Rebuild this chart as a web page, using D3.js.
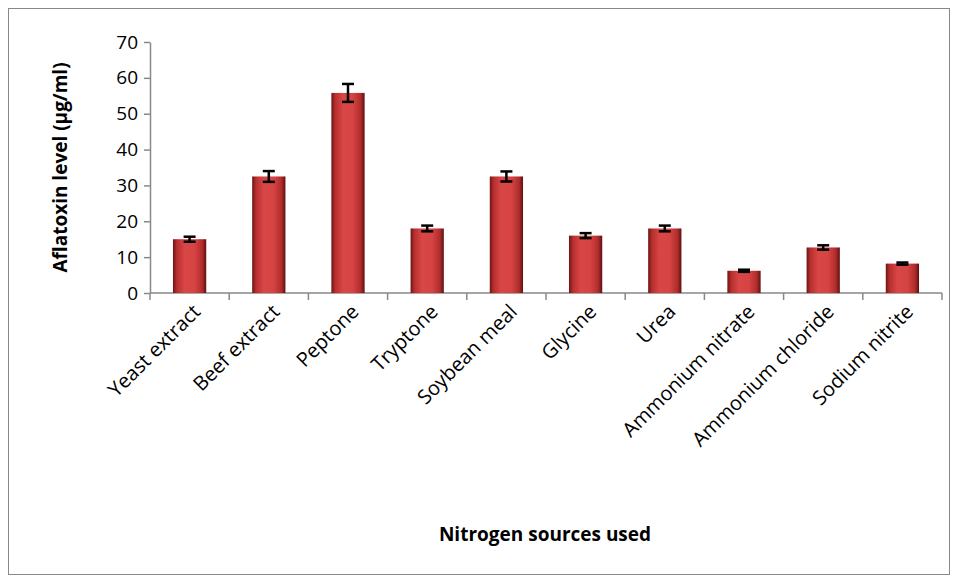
<!DOCTYPE html><html><head><meta charset="utf-8"><script src="https://d3js.org/d3.v7.min.js"></script>
<style>body{margin:0;background:#fff}svg{display:block}text{font-family:"Open Sans",sans-serif}</style></head><body><svg id="c" width="957" height="581"></svg>
<script>
const categories=["Yeast extract","Beef extract","Peptone","Tryptone","Soybean meal","Glycine","Urea","Ammonium nitrate","Ammonium chloride","Sodium nitrite"];
const values=[15,32.5,55.8,18,32.5,16,18,6.2,12.7,8.2];
const errors=[0.7,1.5,2.5,0.8,1.4,0.7,0.8,0.3,0.6,0.3];
const yTicks=[0,10,20,30,40,50,60,70];
const svg=d3.select("#c");
svg.append("rect").attr("x",8.5).attr("y",8.5).attr("width",941).attr("height",566).attr("fill","#fff").attr("stroke","#888");
const L=150,R=942,T=42,B=293;
const x=d3.scaleBand().domain(categories).range([L,R]).paddingInner(0.58).paddingOuter(0.29);
const y=d3.scaleLinear().domain([0,70]).range([B,T]);
const defs=svg.append("defs");
const g=defs.append("linearGradient").attr("id","bg");
[[0,"#6e1515"],[0.12,"#b82f2f"],[0.35,"#d94646"],[0.65,"#d64343"],[0.88,"#b02c2c"],[1,"#5e1010"]].forEach(s=>g.append("stop").attr("offset",s[0]).attr("stop-color",s[1]));
const ya=svg.append("g").attr("transform",`translate(${L},0)`).call(d3.axisLeft(y).tickValues(yTicks).tickSize(6).tickSizeOuter(0));
ya.select(".domain").attr("stroke","#888").attr("stroke-width",1.5);
ya.selectAll("line").attr("stroke","#888").attr("stroke-width",1.5);
ya.selectAll("text").attr("font-size",19).attr("fill","#000").attr("dx",-3);
const xs=d3.scalePoint().domain(d3.range(11)).range([L,R]);
svg.append("line").attr("x1",L).attr("x2",R).attr("y1",B).attr("y2",B).attr("stroke","#888").attr("stroke-width",1.5);
svg.selectAll(".xt").data(d3.range(11)).enter().append("line").attr("x1",d=>xs(d)).attr("x2",d=>xs(d)).attr("y1",B).attr("y2",B+7).attr("stroke","#888").attr("stroke-width",1.5);
svg.selectAll(".bar").data(values).enter().append("rect").attr("x",(d,i)=>x(categories[i])).attr("y",d=>y(d)).attr("width",x.bandwidth()).attr("height",d=>B-y(d)).attr("fill","url(#bg)");
const eb=svg.selectAll(".eb").data(values).enter().append("g").attr("stroke","#000").attr("stroke-width",2.5);
eb.append("line").attr("x1",(d,i)=>x(categories[i])+x.bandwidth()/2).attr("x2",(d,i)=>x(categories[i])+x.bandwidth()/2).attr("y1",(d,i)=>y(d+errors[i])).attr("y2",(d,i)=>y(d-errors[i]));
[1,-1].forEach(s=>eb.append("line").attr("x1",(d,i)=>x(categories[i])+x.bandwidth()/2-6).attr("x2",(d,i)=>x(categories[i])+x.bandwidth()/2+6).attr("y1",(d,i)=>y(d+s*errors[i])).attr("y2",(d,i)=>y(d+s*errors[i])));
svg.selectAll(".xl").data(categories).enter().append("text").attr("transform",d=>`translate(${x(d)+x.bandwidth()/2+12},${B+20}) rotate(-45)`).attr("text-anchor","end").attr("font-size",20).text(d=>d);
svg.append("text").attr("x",545).attr("y",541).attr("text-anchor","middle").attr("font-size",19).attr("font-weight","bold").text("Nitrogen sources used");
svg.append("text").attr("transform",`translate(67,${(T+B)/2}) rotate(-90)`).attr("text-anchor","middle").attr("font-size",19).attr("font-weight","bold").text("Aflatoxin level (µg/ml)");
</script></body></html>
